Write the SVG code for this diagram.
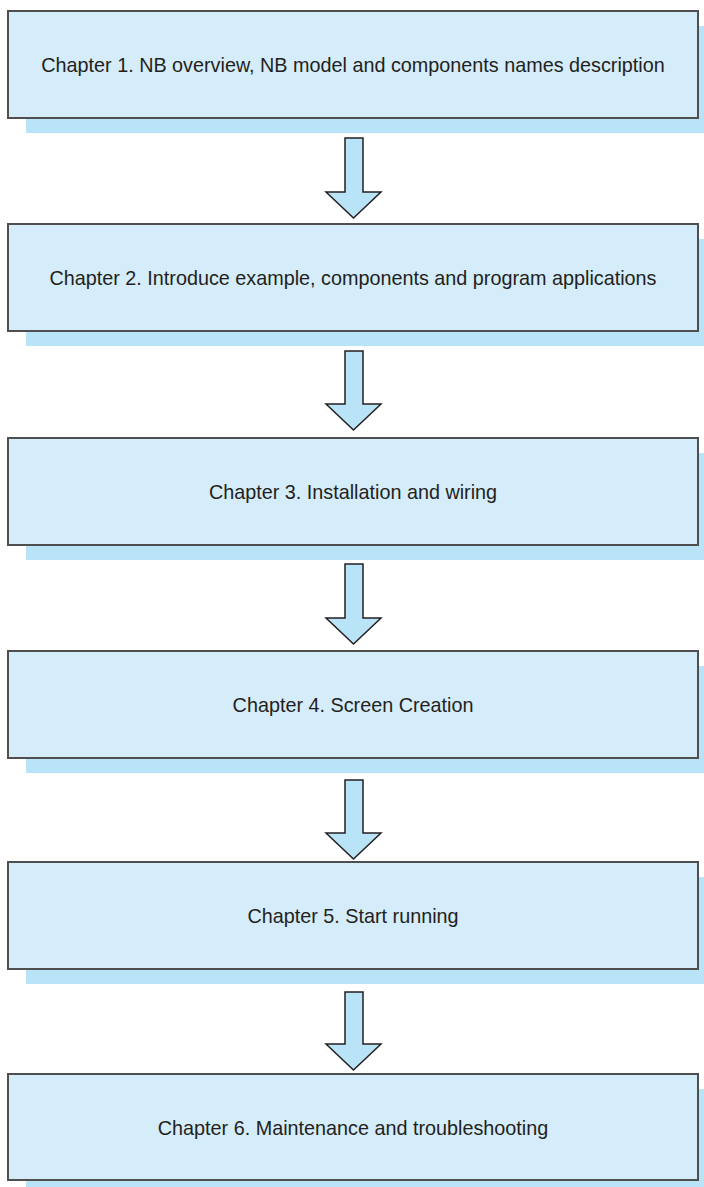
<svg xmlns="http://www.w3.org/2000/svg" width="704" height="1187" viewBox="0 0 704 1187">
<defs>
<style>
.shadow{fill:#b9e4f8;}
.box{fill:#d5ecfa;stroke:#4f4f4f;stroke-width:2;}
.lbl{font-family:"Liberation Sans",Arial,sans-serif;font-size:19.8px;fill:#231f20;text-anchor:middle;}
.arr{fill:#b9e4f8;stroke:#231f20;stroke-width:1.5;stroke-linejoin:miter;}
</style>
</defs>
<rect width="704" height="1187" fill="#ffffff"/>
<g id="node1">
<rect class="shadow" x="26" y="26" width="690" height="107"/>
<rect class="box" x="8" y="11" width="690" height="107"/>
<text class="lbl" x="353" y="72">Chapter 1. NB overview, NB model and components names description</text>
</g>
<g id="node2">
<rect class="shadow" x="26" y="239" width="690" height="107"/>
<rect class="box" x="8" y="224" width="690" height="107"/>
<text class="lbl" x="353" y="285">Chapter 2. Introduce example, components and program applications</text>
</g>
<g id="node3">
<rect class="shadow" x="26" y="453" width="690" height="107"/>
<rect class="box" x="8" y="438" width="690" height="107"/>
<text class="lbl" x="353" y="499">Chapter 3. Installation and wiring</text>
</g>
<g id="node4">
<rect class="shadow" x="26" y="666" width="690" height="107"/>
<rect class="box" x="8" y="651" width="690" height="107"/>
<text class="lbl" x="353" y="712">Chapter 4. Screen Creation</text>
</g>
<g id="node5">
<rect class="shadow" x="26" y="877" width="690" height="107"/>
<rect class="box" x="8" y="862" width="690" height="107"/>
<text class="lbl" x="353" y="923">Chapter 5. Start running</text>
</g>
<g id="node6">
<rect class="shadow" x="26" y="1089" width="690" height="107"/>
<rect class="box" x="8" y="1074" width="690" height="106"/>
<text class="lbl" x="353" y="1135">Chapter 6. Maintenance and troubleshooting</text>
</g>
<g id="connectors">
<polygon class="arr" points="345,138 363,138 363,192 381,192 353.5,218 326,192 345,192"/>
<polygon class="arr" points="345,351 363,351 363,404 381,404 353.5,430 326,404 345,404"/>
<polygon class="arr" points="345,564 363,564 363,618 381,618 353.5,644 326,618 345,618"/>
<polygon class="arr" points="345,780 363,780 363,833 381,833 353.5,859 326,833 345,833"/>
<polygon class="arr" points="345,992 363,992 363,1044 381,1044 353.5,1070 326,1044 345,1044"/>
</g>
</svg>
